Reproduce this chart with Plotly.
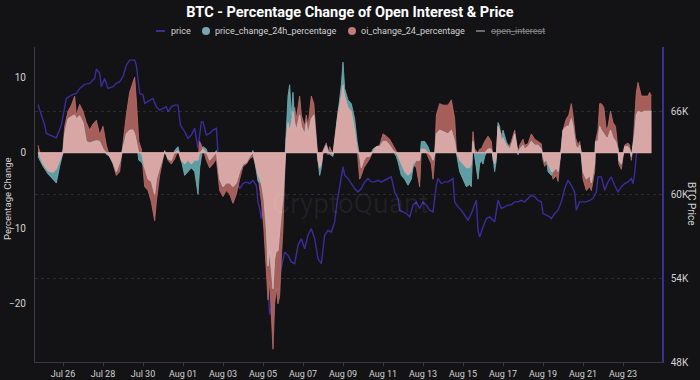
import plotly.graph_objects as go
import pandas as pd

# ---------------- data ----------------
start = pd.Timestamp("2024-07-24 18:00")

pct_hours = [0, 6, 12, 18, 22, 26, 30, 32, 36, 40, 44, 46, 50, 54, 58, 62, 66, 70, 74, 78,
             82, 86, 90, 94, 98, 102, 106, 110, 114, 116, 118, 121, 124, 128, 132, 136, 140, 142, 146, 150,
             152, 156, 160, 164, 168, 172, 176, 180, 184, 188, 192, 194, 198, 202, 206, 210, 214, 218, 222, 226,
             230, 234, 238, 242, 246, 250, 254, 258, 260, 264, 268, 271, 274, 276, 278, 280, 282, 284, 286, 288,
             290, 292, 294, 296, 298, 300, 302, 304, 306, 308, 310, 314, 316, 320, 322, 324, 328, 331, 334, 336,
             338, 340, 342, 346, 348, 350, 354, 356, 360, 364, 366, 368, 372, 376, 380, 383, 386, 388, 391, 394,
             398, 402, 406, 410, 414, 418, 422, 426, 430, 432, 436, 440, 444, 448, 450, 454, 458, 460, 464, 468,
             472, 474, 476, 478, 482, 486, 492, 496, 500, 502, 504, 506, 510, 514, 518, 520, 522, 524, 528, 530,
             532, 534, 536, 540, 544, 546, 548, 550, 552, 554, 556, 558, 562, 566, 568, 572, 574, 576, 578, 582,
             584, 588, 592, 596, 600, 604, 606, 608, 610, 612, 616, 618, 622, 624, 626, 628, 630, 634, 637, 640,
             642, 645, 648, 650, 652, 654, 658, 662, 664, 668, 669, 672, 674, 676, 679, 682, 684, 687, 690, 693,
             696, 697, 700, 702, 704, 708, 710, 712, 714, 716, 718, 720, 724, 728, 732, 734, 736]

oi_change = [1.0, -1.5, -2.4, -2.6, -2.2, -1.2, 0.5, 3.5, 5.5, 6.3, 7.5, 5.0, 6.4, 5.5, 4.0, 3.0, 3.8, 4.3, 2.4, 3.5,
             1.0, -0.5, -1.5, -3.0, -2.5, 1.5, 5.0, 8.0, 9.5, 10.0, 7.0, 1.5, 0.5, -4.5, -5.0, -6.5, -9.0, -6.5, -3.0, -0.5,
             0.3, -1.0, -1.5, -0.8, 0.3, -1.2, -1.5, -1.0, -1.5, -1.0, -1.0, 1.5, 0.5, -1.0, -2.0, -1.5, -0.8, -5.0, -5.8, -5.0,
             -5.5, -6.7, -5.5, -3.5, -1.8, -1.5, -0.8, -0.5, -1.2, -3.0, -6.5, -10.0, -15.0, -19.5, -17.0, -21.0, -26.0, -20.0, -18.0, -20.0,
             -19.0, -14.0, -10.0, -3.0, 2.0, 4.0, 3.0, 4.0, 5.5, 6.0, 4.5, 7.5, 5.0, 3.5, 5.0, 3.5, 7.5, 6.5, 2.0, -1.0,
             -2.0, -1.5, 0.3, 1.3, -0.3, 0.8, -0.2, 2.0, 5.5, 7.5, 9.0, 7.5, 6.0, 5.5, 3.0, 0.5, -3.5, -3.0, -2.0, -1.5,
             -0.8, 0.2, 0.8, 1.0, 2.5, 2.2, 1.8, 1.0, 0.2, -0.5, -1.5, -2.5, -3.0, -2.5, -1.5, -2.0, -4.5, 0.5, 0.5, -0.5,
             -1.5, -3.5, -1.0, 5.0, 6.5, 6.3, 6.3, 7.0, 4.5, 0.5, -0.5, -1.0, -1.5, -2.0, -2.0, -1.5, 2.8, 0.5, 0.0, 0.5,
             0.5, 1.0, 1.5, 2.2, 1.5, -1.0, -1.5, -0.5, 3.5, 3.0, 2.5, 2.0, 1.0, 1.0, 1.5, 3.0, 1.5, 0.0, 1.0, 1.8,
             1.0, 1.2, 2.5, 1.8, 1.5, 1.2, -1.0, -1.8, -1.5, -1.5, -2.5, -3.5, -3.0, -3.8, -1.5, 0.5, 3.0, 4.5, 5.0, 6.5,
             5.0, 2.0, 1.0, 1.5, 0.0, -3.5, -5.0, -4.5, -5.0, -2.5, 1.5, 3.0, 6.5, 6.5, 6.0, 3.0, 3.5, 5.5, 4.0, 3.5,
             0.5, -1.5, -2.2, -0.5, 1.0, 1.3, 1.0, -1.0, 1.0, 4.5, 8.0, 9.3, 7.5, 7.5, 7.5, 8.0, 7.5]

price_change = [-0.5, -1.8, -2.8, -3.6, -4.0, -1.8, 0.0, 2.5, 4.5, 4.8, 5.0, 4.5, 4.9, 4.0, 1.5, 1.3, 1.5, 1.6, 1.5, 0.5,
                -0.2, -0.5, -1.3, -2.5, -1.3, 0.8, 2.5, 3.0, 3.0, 2.5, 1.5, -1.0, -1.2, -2.0, -3.5, -3.8, -5.5, -3.5, -2.0, -0.3,
                0.2, -0.8, -1.0, 0.3, 0.8, -1.0, -3.0, -2.5, -2.0, -2.5, -5.5, -2.0, 0.8, 0.5, -1.0, -0.5, 0.3, -3.5, -4.5, -4.0,
                -4.0, -4.5, -4.0, -2.5, -1.5, -1.3, -0.5, 0.3, -1.0, -3.8, -4.0, -6.0, -10.0, -15.0, -13.0, -16.0, -18.0, -14.0, -13.0, -13.0,
                -10.0, -8.0, -6.0, -2.0, 3.0, 7.5, 9.0, 5.0, 8.0, 4.0, 3.0, 5.0, 3.5, 2.5, 4.0, 2.5, 4.5, 5.0, 1.0, -1.2,
                -3.0, -2.0, 0.1, 1.0, 0.5, -0.2, -0.5, 1.5, 5.0, 9.0, 12.0, 8.5, 7.0, 6.5, 4.5, 1.5, -0.5, -2.0, -1.0, -0.5,
                -0.5, 0.5, 0.8, 0.8, 1.5, 1.5, 1.0, 0.3, -0.5, -1.2, -3.0, -3.5, -4.3, -3.5, -2.0, -1.0, -1.0, 1.5, 1.5, 0.8,
                -0.5, -1.0, -0.3, 2.5, 3.0, 2.8, 2.5, 3.0, 1.5, 0.0, -1.5, -2.5, -3.5, -4.5, -4.2, -4.5, 1.5, -0.5, -3.5, -1.5,
                -1.0, -1.5, -0.5, 0.5, 0.5, -0.5, -2.5, -1.0, 4.0, 3.5, 1.5, 3.0, 1.5, 0.5, 1.0, 2.5, 1.0, -0.3, 0.5, 1.0,
                0.5, 0.8, 1.5, 1.0, 1.0, 0.5, -0.5, -1.2, -0.8, -2.5, -3.0, -2.5, -2.0, -2.5, -1.0, 0.5, 3.0, 3.5, 3.5, 4.5,
                3.5, 1.0, 0.5, 1.0, -0.5, -2.5, -3.5, -3.0, -4.0, -1.5, 1.5, 1.5, 3.5, 3.0, 2.5, 2.0, 2.0, 3.0, 2.0, 1.5,
                0.5, -1.0, -1.5, -0.3, 0.8, 0.8, 0.5, -0.5, 1.0, 2.5, 5.0, 5.5, 5.3, 5.5, 5.5, 5.5, 5.5]

price_hours = [0, 4, 8, 10, 14, 18, 22, 24, 28, 34, 40, 46, 50, 56, 62, 68, 70, 74, 76, 80,
               84, 90, 94, 98, 102, 106, 110, 116, 118, 122, 126, 128, 134, 138, 142, 146, 150, 154, 156, 160,
               164, 168, 171, 176, 180, 184, 188, 192, 196, 198, 202, 206, 210, 214, 216, 222, 230, 238, 242, 246,
               250, 254, 258, 262, 264, 266, 268, 270, 274, 278, 284, 290, 296, 300, 304, 308, 312, 316, 320, 324,
               328, 332, 336, 340, 344, 348, 352, 356, 359, 362, 366, 368, 372, 376, 380, 384, 388, 392, 396, 400,
               404, 408, 412, 416, 420, 424, 428, 432, 434, 438, 442, 446, 450, 454, 458, 462, 466, 470, 474, 478,
               480, 484, 488, 492, 498, 500, 504, 508, 512, 516, 520, 524, 526, 528, 530, 534, 538, 542, 546, 548,
               552, 556, 560, 564, 568, 572, 576, 580, 584, 588, 592, 596, 600, 604, 606, 610, 614, 616, 620, 624,
               628, 632, 636, 640, 644, 646, 650, 654, 658, 662, 666, 670, 672, 676, 680, 684, 688, 692, 696, 700,
               704, 708, 712, 714, 716, 718, 722, 728, 736]

price = [66480, 65710, 64990, 64400, 64280, 64160, 64080, 64400, 64990, 66910, 67150, 67270, 67630, 67920, 67990, 68350, 69020, 68710, 67750, 68350,
         67630, 67750, 67990, 68110, 68470, 69300, 69660, 69660, 69300, 67270, 67150, 66550, 66790, 66910, 66310, 66070, 66190, 66310, 65950, 66310,
         66430, 66430, 64990, 64520, 64040, 64280, 64760, 63320, 65230, 65230, 64280, 64400, 64640, 64760, 63080, 62300, 61500, 61000, 60440, 60800,
         60920, 60800, 61040, 60680, 59490, 59010, 58290, 59250, 55500, 51400, 53000, 54200, 55890, 55650, 55180, 55060, 56370, 56850, 56130, 57090,
         57570, 56850, 55410, 55060, 57090, 57450, 57330, 58050, 59490, 60680, 62000, 61400, 61160, 60800, 60440, 60200, 60440, 60920, 61160, 60920,
         60920, 61040, 60920, 61040, 61160, 61280, 60200, 59730, 58890, 58770, 58650, 58410, 59250, 59490, 59010, 59490, 59250, 58890, 58770, 60680,
         61160, 60800, 60920, 60920, 61160, 59490, 59130, 58890, 58530, 58170, 58650, 59250, 59600, 57450, 56970, 57690, 58290, 58410, 58170, 58050,
         59600, 59010, 59130, 59250, 59290, 59490, 59490, 59600, 59490, 59730, 59970, 59850, 59600, 59490, 58650, 58530, 58410, 58290, 58650, 58890,
         59490, 60440, 61040, 60680, 60200, 58890, 59490, 59490, 59490, 59600, 59730, 60200, 61280, 61280, 60320, 60920, 61280, 60680, 60200, 60560,
         60800, 60920, 61160, 60800, 61520, 62840, 64000, 64200, 64300]

x_tick_dates = ["2024-07-26", "2024-07-28", "2024-07-30", "2024-08-01", "2024-08-03", "2024-08-05",
                "2024-08-07", "2024-08-09", "2024-08-11", "2024-08-13", "2024-08-15", "2024-08-17",
                "2024-08-19", "2024-08-21", "2024-08-23"]
x_tick_labels = ["Jul 26", "Jul 28", "Jul 30", "Aug 01", "Aug 03", "Aug 05", "Aug 07", "Aug 09",
                 "Aug 11", "Aug 13", "Aug 15", "Aug 17", "Aug 19", "Aug 21", "Aug 23"]
pct_ticks = [-20, -10, 0, 10]
price_ticks = [48000, 54000, 60000, 66000]
price_tick_labels = ["48K", "54K", "60K", "66K"]

# ---------------- derived ----------------
pct_time = [start + pd.Timedelta(hours=h) for h in pct_hours]
price_time = [start + pd.Timedelta(hours=h) for h in price_hours]
overlap = [(1 if o > 0 else -1) * min(abs(o), abs(p)) if o * p > 0 else 0.0
           for o, p in zip(oi_change, price_change)]

BG = "#131215"
TXT = "#d2d2d2"
FONT = "Roboto"
PRICE_C = "#3b2d9e"
RED_FILL = "#a65e5b"
TEAL_FILL = "#5e9da3"
PINK_FILL = "#d8a6a4"

L, R, T, B = 35, 38, 47, 18
W, H = 700, 380
PW, PH = W - L - R, H - T - B


def fx(px):
    return (px - L) / PW


def fy(py):
    return (H - B - py) / PH


fig = go.Figure()

# price (base axis, drawn beneath the areas)
fig.add_trace(go.Scatter(x=price_time, y=price, mode="lines", name="price",
                         line=dict(color=PRICE_C, width=1.4), yaxis="y", showlegend=False))
# oi change area
fig.add_trace(go.Scatter(x=pct_time, y=oi_change, mode="lines", name="oi_change_24_percentage",
                         fill="tozeroy", fillcolor=RED_FILL, line=dict(color="#b86f6b", width=0.8),
                         yaxis="y2", showlegend=False))
# price change area
fig.add_trace(go.Scatter(x=pct_time, y=price_change, mode="lines", name="price_change_24h_percentage",
                         fill="tozeroy", fillcolor=TEAL_FILL, line=dict(color="#72b0b5", width=0.8),
                         yaxis="y2", showlegend=False))
# overlap of the two areas
fig.add_trace(go.Scatter(x=pct_time, y=overlap, mode="lines", name="overlap",
                         fill="tozeroy", fillcolor=PINK_FILL, line=dict(color="#e3b6b4", width=0.6),
                         yaxis="y2", showlegend=False, hoverinfo="skip"))

fig.add_shape(type="line", xref="x", yref="y2", x0=pct_time[0], x1=pct_time[-1], y0=0, y1=0,
              line=dict(color="#e0b2b0", width=1), layer="above")

LEG = 9
annotations = [
    dict(text="CryptoQuant", x=fx(350), y=fy(203), xref="paper", yref="paper", showarrow=False,
         xanchor="center", yanchor="middle",
         font=dict(family=FONT, size=28, color="rgba(255,255,255,0.06)")),
    dict(text="Percentage Change", x=fx(8), y=fy(199), xref="paper", yref="paper", showarrow=False,
         xanchor="center", yanchor="middle",
         textangle=-90, font=dict(family=FONT, size=9.5, color=TXT)),
    dict(text="BTC Price", x=fx(692), y=fy(204), xref="paper", yref="paper", showarrow=False,
         xanchor="center", yanchor="middle",
         textangle=90, font=dict(family=FONT, size=10, color=TXT)),
    dict(text="price", x=fx(169), y=fy(31), xref="paper", yref="paper", showarrow=False,
         xanchor="left", yanchor="middle", font=dict(family=FONT, size=LEG, color=TXT)),
    dict(text="price_change_24h_percentage", x=fx(213), y=fy(31), xref="paper", yref="paper",
         showarrow=False, xanchor="left", yanchor="middle", font=dict(family=FONT, size=LEG, color=TXT)),
    dict(text="oi_change_24_percentage", x=fx(359), y=fy(31), xref="paper", yref="paper",
         showarrow=False, xanchor="left", yanchor="middle", font=dict(family=FONT, size=LEG, color=TXT)),
    dict(text="<s>open_interest</s>", x=fx(489), y=fy(31), xref="paper", yref="paper",
         showarrow=False, xanchor="left", yanchor="middle", font=dict(family=FONT, size=LEG, color="#8a8a8a")),
]

shapes_legend = [
    dict(type="line", xref="paper", yref="paper", x0=fx(156), x1=fx(165), y0=fy(31), y1=fy(31),
         line=dict(color=PRICE_C, width=2)),
    dict(type="circle", xref="paper", yref="paper", xsizemode="pixel", ysizemode="pixel",
         xanchor=fx(206), yanchor=fy(31), x0=-4, x1=4, y0=-4, y1=4,
         fillcolor="#7aa7ad", line=dict(width=0)),
    dict(type="circle", xref="paper", yref="paper", xsizemode="pixel", ysizemode="pixel",
         xanchor=fx(352), yanchor=fy(31), x0=-4, x1=4, y0=-4, y1=4,
         fillcolor="#c07a78", line=dict(width=0)),
    dict(type="line", xref="paper", yref="paper", x0=fx(476), x1=fx(485), y0=fy(31), y1=fy(31),
         line=dict(color="#8a8a8a", width=1.5)),
]
for s in shapes_legend:
    fig.add_shape(**s)

fig.update_layout(
    template="none",
    width=W, height=H,
    margin=dict(l=L, r=R, t=T, b=B, autoexpand=False),
    paper_bgcolor=BG, plot_bgcolor=BG,
    font=dict(family=FONT, color=TXT, size=10),
    title=dict(text="<b>BTC - Percentage Change of Open Interest & Price</b>",
               x=0.5, xref="container", xanchor="center",
               y=1 - 12 / H, yref="container", yanchor="middle", automargin=False,
               font=dict(family=FONT, size=14.5, color="#ffffff")),
    showlegend=False,
    annotations=annotations,
    xaxis=dict(range=[start + pd.Timedelta(hours=-3.6), start + pd.Timedelta(hours=748.8)],
               tickvals=x_tick_dates, ticktext=x_tick_labels, automargin=False,
               tickfont=dict(size=9, color=TXT), showgrid=False, zeroline=False,
               showline=True, linecolor="#3a3a3e", linewidth=1,
               ticks="outside", ticklen=3, tickcolor="#3a3a3e"),
    yaxis=dict(range=[48000, 70600], side="right", tickvals=price_ticks, ticktext=price_tick_labels,
               tickfont=dict(size=10, color=TXT), showgrid=True, gridcolor="#2c2c30", griddash="dot",
               gridwidth=1, zeroline=False, showline=True, linecolor="#3a2f95", linewidth=1.5,
               ticks="", ticklabelstandoff=5, automargin=False),
    yaxis2=dict(range=[-27.7, 14.0], side="left", overlaying="y", tickvals=pct_ticks,
                tickfont=dict(size=10, color=TXT), showgrid=False, zeroline=False,
                showline=True, linecolor="#3e3e42", linewidth=1, ticks="",
                ticklabelstandoff=6, automargin=False),
)

fig.write_html("out.html", config={"displayModeBar": False},
               post_script="document.body.style.margin='0';document.body.style.background='#131215';")
